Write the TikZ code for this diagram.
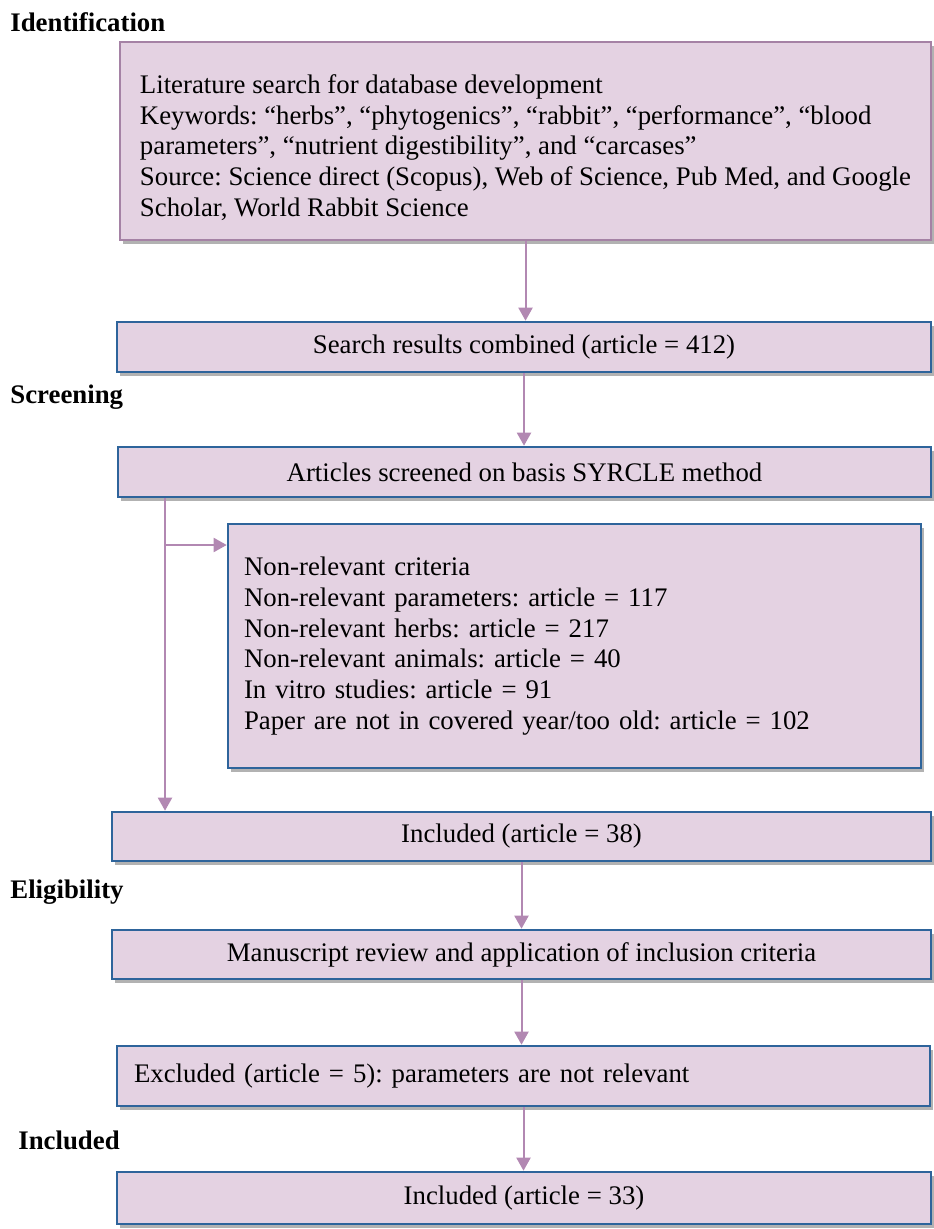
\documentclass[tikz,border=0pt]{standalone}
\usepackage{fontspec}
\setmainfont{Liberation Serif}
\usetikzlibrary{arrows.meta,shadows}
\frenchspacing
\definecolor{boxfill}{RGB}{228,210,226}
\definecolor{boxblue}{RGB}{46,100,155}
\definecolor{boxmauve}{RGB}{165,130,165}
\definecolor{arrmauve}{RGB}{178,136,178}
\tikzstyle{bx}=[rectangle,draw=boxblue,line width=1.3pt,fill=boxfill,inner sep=0pt,
  drop shadow={shadow xshift=1.5pt,shadow yshift=-2pt,opacity=0.3,fill=black}]
\tikzstyle{hd}=[inner sep=0pt,font=\fontsize{13.4}{15.4}\selectfont\bfseries]
\tikzstyle{arr}=[draw=arrmauve,line width=1pt,-{Triangle[width=7pt,length=6.5pt]},arrmauve]

\begin{document}
\begin{tikzpicture}[x=0.5pt,y=-0.5pt,font=\fontsize{13.4}{15.4}\selectfont]
 \useasboundingbox (0,0) rectangle (933,1229);

 \node[hd,anchor=west] (h1) at (10,22) {Identification};
 \node[hd,anchor=west] (h2) at (10,397) {Screening};
 \node[hd,anchor=west] (h3) at (10,892) {Eligibility};
 \node[hd,anchor=west] (h4) at (18,1140) {Included};

 \node[bx,draw=boxmauve,line width=1pt,minimum width=405.5pt,minimum height=99pt,align=left] (lit) at (525.5,141)
   {\rule{0pt}{16pt}Literature search for database development\\
    Keywords: “herbs”, “phytogenics”, “rabbit”, “performance”, “blood\\
    parameters”, “nutrient digestibility”, and “carcases”\\
    Source: Science direct (Scopus), Web of Science, Pub Med, and Google\\
    Scholar, World Rabbit Science};

 \node[bx,minimum width=407pt,minimum height=25pt] (srch) at (524,347) {Search results combined (article = 412)};
 \node[bx,minimum width=406.5pt,minimum height=25pt] (scr) at (524.5,472) {Articles screened on basis SYRCLE method};

 \node[bx,text width=330.5pt,inner xsep=8pt,minimum height=122pt,align=left] (nonrel) at (574.5,646)
   {Non-relevant criteria\\
    Non-relevant parameters: article = 117\\
    Non-relevant herbs: article = 217\\
    Non-relevant animals: article = 40\\
    In vitro studies: article = 91\\
    Paper are not in covered year/too old: article = 102};

 \node[bx,minimum width=409.5pt,minimum height=24.5pt] (inc1) at (521.5,836.5) {Included (article = 38)};
 \node[bx,minimum width=409.5pt,minimum height=24.5pt] (manu) at (521.5,954.5) {Manuscript review and application of inclusion criteria};
 \node[bx,text width=389.5pt,inner xsep=8.5pt,minimum height=30pt,align=left] (excl) at (523.5,1076)
   {Excluded (article = 5): parameters are not relevant};
 \node[bx,minimum width=407pt,minimum height=26pt] (inc2) at (524,1198) {Included (article = 33)};

 \coordinate (sp) at (165,545);

 \draw[arr] (lit.south) -- (lit.south |- srch.north);
 \draw[arr] (srch.south) -- (srch.south |- scr.north);
 \draw[arr] (scr.south -| sp) -- (inc1.north -| sp);
 \draw[arr] (sp) -- (sp -| nonrel.west);
 \draw[arr] (inc1.south) -- (inc1.south |- manu.north);
 \draw[arr] (manu.south) -- (manu.south |- excl.north);
 \draw[arr] (excl.south) -- (excl.south |- inc2.north);

\end{tikzpicture}
\end{document}
